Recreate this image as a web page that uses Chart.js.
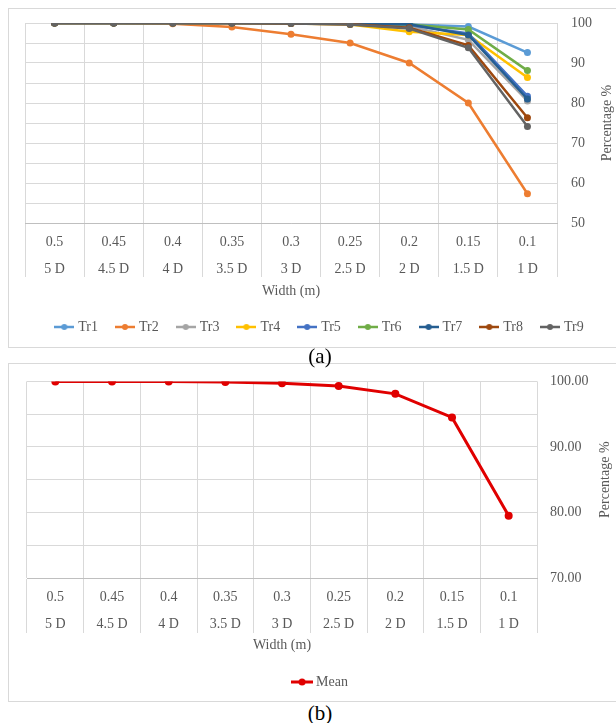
<!DOCTYPE html>
<html>
<head>
<meta charset="utf-8">
<script src="https://cdn.jsdelivr.net/npm/chart.js@4"></script>
<style>
  html, body { margin:0; padding:0; background:#fff; }
  body { width:616px; height:723px; position:relative; overflow:hidden; font-family:"Liberation Serif", serif; }
  .frame { position:absolute; border:1px solid #d9d9d9; box-sizing:border-box; }
  canvas { position:absolute; left:0; }
  .cap { position:absolute; left:0; width:640px; text-align:center; font-size:21px; color:#000; line-height:24px; }
</style>
</head>
<body>
<div class="frame" style="left:8px;top:8px;width:700px;height:340px"></div>
<div class="frame" style="left:8px;top:363px;width:700px;height:339px"></div>
<canvas id="ca" width="616" height="346" style="top:0"></canvas>
<canvas id="cb" width="616" height="341" style="top:360px"></canvas>
<div class="cap" style="top:344px">(a)</div>
<div class="cap" style="top:701px">(b)</div>
<script>
// ---- data ----
const widths = ['0.5','0.45','0.4','0.35','0.3','0.25','0.2','0.15','0.1'];
const diameters = ['5 D','4.5 D','4 D','3.5 D','3 D','2.5 D','2 D','1.5 D','1 D'];
const seriesNames = ['Tr1','Tr2','Tr3','Tr4','Tr5','Tr6','Tr7','Tr8','Tr9'];
const tr1 = [100,100,100,100,100,99.9,99.6,99.1,92.6];
const tr2 = [100,100,99.8,99,97.2,95,90,80,57.3];
const tr3 = [100,100,100,100,100,99.8,99.2,95.8,80.5];
const tr4 = [100,100,100,100,99.9,99.6,97.8,97,86.4];
const tr5 = [100,100,100,100,100,99.9,99.5,97.4,81.7];
const tr6 = [100,100,100,100,100,99.9,99.6,98.4,88.1];
const tr7 = [100,100,100,100,100,99.9,99.7,97,81];
const tr8 = [100,100,100,100,99.9,99.7,98.8,94.4,76.3];
const tr9 = [100,100,100,100,99.9,99.6,98.6,93.8,74.1];
const meanValues = [100,100,100,99.9,99.7,99.3,98.1,94.5,79.5];
const yTicksA = [50,60,70,80,90,100];
const yTicksB = [70,80,90,100];

// ---- styles ----
const colors = ['#5B9BD5','#ED7D31','#A5A5A5','#FFC000','#4472C4','#70AD47','#255E91','#9E480E','#636363'];
const meanColor = '#E00000';
const FONT = '"Liberation Serif", "Times New Roman", serif';
const TXT = '#595959';
const GRID = '#d9d9d9';

function legendIcon(color, w, lw, r) {
  const c = document.createElement('canvas');
  c.width = w; c.height = 10;
  const g = c.getContext('2d');
  g.strokeStyle = color; g.lineWidth = lw;
  g.beginPath(); g.moveTo(0, 5); g.lineTo(w, 5); g.stroke();
  g.fillStyle = color;
  g.beginPath(); g.arc(w/2, 5, r, 0, Math.PI*2); g.fill();
  return c;
}

const yTitlePlugin = {
  id: 'yTitle',
  afterDraw(chart, args, opts) {
    const ctx = chart.ctx;
    const a = chart.chartArea;
    ctx.save();
    ctx.translate(opts.x, (a.top + a.bottom) / 2);
    ctx.rotate(-Math.PI / 2);
    ctx.font = '14px ' + FONT;
    ctx.fillStyle = TXT;
    ctx.textAlign = 'center';
    ctx.textBaseline = 'middle';
    ctx.fillText(opts.text, 0, 0);
    ctx.restore();
  }
};

const labels = widths.map((w, i) => [w, diameters[i]]);

function makeOptions(cfg) {
  return {
    responsive: false,
    animation: false,
    events: [],
    layout: { padding: { left: cfg.left, top: cfg.top, right: 0, bottom: 2 } },
    plugins: {
      tooltip: { enabled: false },
      yTitle: { text: 'Percentage %', x: cfg.titleX },
      legend: {
        position: 'bottom',
        labels: {
          usePointStyle: true,
          pointStyleWidth: 14,
          padding: 20,
          color: TXT,
          font: { family: FONT, size: 14 }
        }
      }
    },
    scales: {
      x: {
        type: 'category',
        offset: true,
        grid: { offset: true, color: GRID, tickLength: cfg.tickLen, drawTicks: true },
        border: { display: true, color: '#bfbfbf' },
        ticks: {
          color: TXT, autoSkip: false, maxRotation: 0, minRotation: 0,
          padding: cfg.tickPad,
          font: { family: FONT, size: 14, lineHeight: 27/14 }
        },
        title: {
          display: true, text: 'Width (m)', color: TXT,
          font: { family: FONT, size: 14, lineHeight: 1.2 },
          padding: { top: 0, bottom: cfg.titlePad }
        },
        afterFit(s) { s.height = cfg.xHeight; }
      },
      y: {
        position: 'right',
        min: cfg.min, max: 100,
        grid: { color: GRID, drawTicks: false },
        border: { display: false },
        ticks: {
          stepSize: 5, padding: cfg.yPad, color: TXT,
          font: { family: FONT, size: 14 },
          callback: v => (cfg.ticks.includes(v) ? cfg.fmt(v) : '')
        },
        afterFit(s) { s.width = cfg.yWidth; }
      }
    }
  };
}

const trData = [tr1,tr2,tr3,tr4,tr5,tr6,tr7,tr8,tr9];
new Chart(document.getElementById('ca'), {
  type: 'line',
  data: {
    labels: labels,
    datasets: trData.map((d, i) => ({
      label: seriesNames[i],
      data: d,
      borderColor: colors[i],
      backgroundColor: colors[i],
      borderWidth: 2.5,
      pointRadius: 3.5,
      pointBorderWidth: 0,
      pointStyle: 'circle',
      tension: 0,
      order: 9 - i
    }))
  },
  options: (() => {
    const o = makeOptions({left: 25, top: 23, titleX: 607, tickLen: 54, tickPad: -48.5,
      titlePad: 0.6, xHeight: 77, min: 50, ticks: yTicksA, fmt: v => String(v), yPad: 14, yWidth: 59});
    o.plugins.legend.labels.generateLabels = chart => chart.data.datasets.map((ds, i) => ({
      text: ds.label, pointStyle: legendIcon(colors[i], 20, 2.5, 3), fillStyle: colors[i],
      strokeStyle: colors[i], lineWidth: 0, datasetIndex: i, fontColor: TXT
    }));
    return o;
  })(),
  plugins: [yTitlePlugin]
});

new Chart(document.getElementById('cb'), {
  type: 'line',
  data: {
    labels: labels,
    datasets: [{
      label: 'Mean',
      data: meanValues,
      borderColor: meanColor,
      backgroundColor: meanColor,
      borderWidth: 3,
      pointRadius: 4,
      pointBorderWidth: 0,
      tension: 0
    }]
  },
  options: (() => {
    const o = makeOptions({left: 27, top: 18, titleX: 605, tickLen: 55, tickPad: -49.5,
      titlePad: 1.6, xHeight: 77, min: 70, ticks: yTicksB, fmt: v => v.toFixed(2), yPad: 13, yWidth: 79});
    o.plugins.legend.labels.generateLabels = chart => chart.data.datasets.map((ds, i) => ({
      text: ds.label, pointStyle: legendIcon(meanColor, 22, 3, 3.5), fillStyle: meanColor,
      strokeStyle: meanColor, lineWidth: 0, datasetIndex: i, fontColor: TXT
    }));
    return o;
  })(),
  plugins: [yTitlePlugin]
});
</script>
</body>
</html>
